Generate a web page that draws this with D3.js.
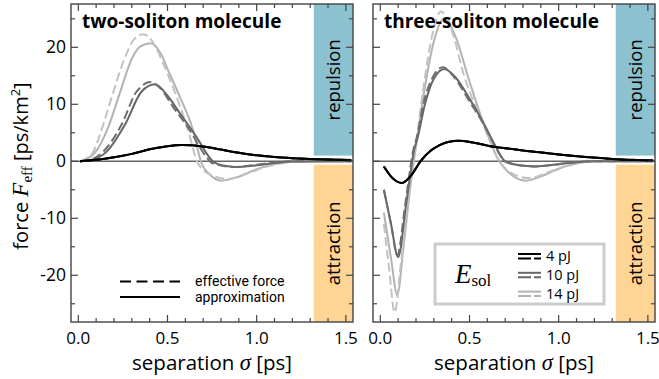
<!DOCTYPE html>
<html><head><meta charset="utf-8">
<script src="https://cdn.jsdelivr.net/npm/d3@7"></script>
<style>
body{margin:0;background:#fff}
svg{display:block}
text{font-family:'Open Sans',sans-serif;fill:#000}
.serif{font-family:'Liberation Serif','DejaVu Serif',serif}
.leg{font-family:Roboto,'Open Sans',sans-serif}
</style>
</head><body>
<svg id="c" width="659" height="379"></svg>
<script>
// ---------------- data ----------------
const panelTitles = ["two-soliton molecule", "three-soliton molecule"];
const energyLabels = ["4 pJ", "10 pJ", "14 pJ"];
const xTickValues = [0, 0.5, 1.0, 1.5];
const xTickLabels = ["0.0", "0.5", "1.0", "1.5"];
const yTickValues = [-20, -10, 0, 10, 20];
const yTickLabels = ["-20", "-10", "0", "10", "20"];
const bandStart = 1.32;          // start of repulsion / attraction band (sigma)
const repulsionFrom = 1.0;       // band lower edge (force)
const attractionFrom = -0.6;     // band upper edge (force)

// two-soliton molecule  [sigma, force]
const two4Dashed  = [[0.01,0],[0.1,0.25],[0.2,0.7],[0.3,1.3],[0.4,2.1],[0.5,2.65],[0.58,2.85],[0.7,2.6],[0.8,2.05],[0.9,1.5],[1.0,1.05],[1.1,0.75],[1.2,0.55],[1.3,0.4],[1.4,0.3],[1.53,0.22]];
const two4Solid   = [[0.01,0],[0.1,0.25],[0.2,0.7],[0.3,1.3],[0.4,2.1],[0.5,2.65],[0.58,2.85],[0.7,2.6],[0.8,2.05],[0.9,1.5],[1.0,1.05],[1.1,0.75],[1.2,0.55],[1.3,0.4],[1.4,0.3],[1.53,0.22]];
const two10Dashed = [[0.01,0],[0.07,0.3],[0.14,1.7],[0.242,6.4],[0.326,12.2],[0.36,13.3],[0.40,13.9],[0.46,12.8],[0.53,9.6],[0.624,5.5],[0.717,0.8],[0.75,-0.3],[0.87,-1.0],[1.0,-0.6],[1.1,-0.2],[1.2,0],[1.53,0]];
const two10Solid  = [[0.01,0],[0.08,0.3],[0.159,1.7],[0.261,6.4],[0.354,12.2],[0.43,13.5],[0.5,11.5],[0.568,8.5],[0.66,4.4],[0.754,0],[0.82,-0.8],[0.88,-1.0],[1.0,-0.7],[1.1,-0.3],[1.2,-0.05],[1.53,0]];
const two14Dashed = [[0.01,0],[0.08,1.5],[0.13,5.5],[0.19,11.5],[0.26,18.1],[0.31,21.3],[0.365,22.3],[0.42,20.8],[0.475,17.2],[0.55,11.4],[0.615,5.5],[0.67,-0.3],[0.75,-2.5],[0.84,-3.1],[0.95,-2.1],[1.05,-1.0],[1.15,-0.3],[1.3,0],[1.53,0]];
const two14Solid  = [[0.01,0],[0.093,1.5],[0.168,6.0],[0.233,12.0],[0.30,18.0],[0.35,20.2],[0.405,20.7],[0.46,19.0],[0.503,16],[0.568,11.4],[0.643,5.5],[0.69,-0.3],[0.74,-2.4],[0.80,-3.4],[0.9,-2.7],[1.0,-1.4],[1.1,-0.5],[1.2,-0.1],[1.35,0],[1.53,0]];

// three-soliton molecule  [sigma, force]
const three4Dashed  = [[0.02,-0.9],[0.07,-3.0],[0.12,-3.8],[0.17,-2.6],[0.225,0],[0.28,1.8],[0.33,2.8],[0.38,3.4],[0.44,3.6],[0.52,3.3],[0.61,2.7],[0.7,2.3],[0.8,1.9],[0.89,1.6],[1.0,1.2],[1.17,0.7],[1.3,0.42],[1.44,0.22],[1.53,0.15]];
const three4Solid   = [[0.02,-0.9],[0.07,-3.0],[0.12,-3.8],[0.17,-2.6],[0.225,0],[0.28,1.8],[0.33,2.8],[0.38,3.4],[0.44,3.6],[0.52,3.3],[0.61,2.7],[0.7,2.3],[0.8,1.9],[0.89,1.6],[1.0,1.2],[1.17,0.7],[1.3,0.42],[1.44,0.22],[1.53,0.15]];
const three10Dashed = [[0.02,-5],[0.06,-11],[0.095,-16.5],[0.14,-7.5],[0.185,2],[0.207,4.5],[0.24,9.9],[0.29,14.5],[0.35,16.5],[0.42,14.5],[0.5,10.5],[0.574,6.8],[0.64,2.8],[0.70,0],[0.78,-0.7],[0.87,-0.9],[1.0,-0.5],[1.1,-0.15],[1.2,0],[1.53,0]];
const three10Solid  = [[0.02,-5],[0.06,-11],[0.1,-16.8],[0.145,-7.5],[0.19,2],[0.212,4.5],[0.25,10],[0.3,14.5],[0.36,16.2],[0.42,14.8],[0.5,11],[0.574,7],[0.64,3],[0.70,0],[0.78,-0.7],[0.87,-0.9],[1.0,-0.5],[1.1,-0.15],[1.2,0],[1.53,0]];
const three14Dashed = [[0.02,-11],[0.05,-19],[0.08,-26.5],[0.115,-18],[0.16,-6],[0.2,3],[0.24,12.5],[0.29,22],[0.34,26.3],[0.4,23],[0.47,15],[0.57,7],[0.667,0],[0.75,-2.3],[0.83,-2.95],[0.95,-1.8],[1.05,-0.7],[1.15,-0.1],[1.25,0],[1.53,0]];
const three14Solid  = [[0.02,-9],[0.06,-17],[0.095,-23.5],[0.13,-15],[0.17,-4],[0.207,4.1],[0.25,13],[0.3,21],[0.36,25.1],[0.42,22],[0.5,14],[0.58,6.5],[0.667,0],[0.74,-2.5],[0.815,-3.4],[0.92,-2.4],[1.0,-1.3],[1.1,-0.4],[1.2,0],[1.53,0]];

// ---------------- drawing ----------------
(function () {
const svg = d3.select("#c");
const colors = ["#000000", "#666666", "#b3b3b3"];
const frameColor = "#444";
const panelW = 282, topY = 4, bottomY = 322;
const panels = [
  {x0: 71, title: panelTitles[0], curves: [[two4Dashed,two4Solid],[two10Dashed,two10Solid],[two14Dashed,two14Solid]], yLabels: true},
  {x0: 373, title: panelTitles[1], curves: [[three4Dashed,three4Solid],[three10Dashed,three10Solid],[three14Dashed,three14Solid]], yLabels: false}
];
const y = d3.scaleLinear().domain([-28.2, 27.6]).range([bottomY, topY]);

panels.forEach((p, pi) => {
  const x = d3.scaleLinear().domain([-0.041, 1.54]).range([p.x0, p.x0 + panelW]);
  const g = svg.append("g");
  const clipId = "clip" + pi;
  g.append("clipPath").attr("id", clipId).append("rect")
    .attr("x", p.x0).attr("y", topY).attr("width", panelW).attr("height", bottomY - topY);

  // bands
  g.append("rect").attr("x", x(bandStart)).attr("y", topY)
    .attr("width", p.x0 + panelW - x(bandStart)).attr("height", y(repulsionFrom) - topY)
    .attr("fill", "#8cc1d0");
  g.append("rect").attr("x", x(bandStart)).attr("y", y(attractionFrom))
    .attr("width", p.x0 + panelW - x(bandStart)).attr("height", bottomY - y(attractionFrom))
    .attr("fill", "#fed595");
  const bcx = (x(bandStart) + p.x0 + panelW) / 2 + 6.5;
  g.append("text").attr("transform", `translate(${bcx},${(topY + y(repulsionFrom)) / 2}) rotate(-90)`)
    .attr("text-anchor", "middle").attr("font-size", 18.5).text("repulsion");
  g.append("text").attr("transform", `translate(${bcx},${(bottomY + y(attractionFrom)) / 2}) rotate(-90)`)
    .attr("text-anchor", "middle").attr("font-size", 18.5).text("attraction");

  // zero line
  g.append("line").attr("x1", p.x0).attr("x2", p.x0 + panelW).attr("y1", y(0)).attr("y2", y(0))
    .attr("stroke", "#666").attr("stroke-width", 1.4);

  // curves
  const line = d3.line().x(d => x(d[0])).y(d => y(d[1])).curve(d3.curveMonotoneX);
  const cg = g.append("g").attr("clip-path", `url(#${clipId})`);
  [2, 1, 0].forEach(i => {
    const [dashed, solid] = p.curves[i];
    cg.append("path").datum(solid).attr("d", line).attr("fill", "none")
      .attr("stroke", colors[i]).attr("stroke-width", 2);
    cg.append("path").datum(dashed).attr("d", line).attr("fill", "none")
      .attr("stroke", i === 0 ? "#1c2a1c" : (i === 2 ? "#c2c2c2" : "#6e6e6e")).attr("stroke-width", 2)
      .attr("stroke-dasharray", "9,4");
  });
  cg.append("path").datum(p.curves[0][1]).attr("d", line).attr("fill", "none")
    .attr("stroke", "#000").attr("stroke-width", 2);

  // frame
  g.append("rect").attr("x", p.x0).attr("y", topY).attr("width", panelW).attr("height", bottomY - topY)
    .attr("fill", "none").attr("stroke", frameColor).attr("stroke-width", 1.4);

  // x ticks (inward, top & bottom)
  d3.range(0, 15.5, 1).map(k => k / 10).forEach(v => {
    const isMajor = Math.abs(v * 2 - Math.round(v * 2)) < 1e-6;
    const len = isMajor ? 7 : 4;
    g.append("line").attr("x1", x(v)).attr("x2", x(v)).attr("y1", bottomY).attr("y2", bottomY - len)
      .attr("stroke", frameColor).attr("stroke-width", 1.2);
    g.append("line").attr("x1", x(v)).attr("x2", x(v)).attr("y1", topY).attr("y2", topY + len)
      .attr("stroke", frameColor).attr("stroke-width", 1.2);
  });
  // y ticks (inward, left & right)
  d3.range(-25, 25.001, 5).forEach(v => {
    const isMajor = v % 10 === 0;
    const len = isMajor ? 7 : 4;
    g.append("line").attr("x1", p.x0).attr("x2", p.x0 + len).attr("y1", y(v)).attr("y2", y(v))
      .attr("stroke", frameColor).attr("stroke-width", 1.2);
    g.append("line").attr("x1", p.x0 + panelW).attr("x2", p.x0 + panelW - len).attr("y1", y(v)).attr("y2", y(v))
      .attr("stroke", frameColor).attr("stroke-width", 1.2);
  });
  // x tick labels
  xTickValues.forEach((v, i) => {
    g.append("text").attr("x", x(v)).attr("y", 344).attr("text-anchor", "middle")
      .attr("font-size", 17).text(xTickLabels[i]);
  });
  if (p.yLabels) {
    yTickValues.forEach((v, i) => {
      g.append("text").attr("x", 66).attr("y", y(v) + 6).attr("text-anchor", "end")
        .attr("font-size", 17.5).text(yTickLabels[i]);
    });
  }
  // title
  g.append("text").attr("x", p.x0 + 11).attr("y", 28).attr("font-size", 19)
    .attr("font-weight", "bold").text(p.title);

  // x label
  const xl = g.append("text").attr("x", p.x0 + 141).attr("y", 369.5).attr("text-anchor", "middle")
    .attr("font-size", 20.5);
  xl.append("tspan").text("separation ");
  xl.append("tspan").attr("class", "serif").attr("font-style", "italic").attr("font-size", 22.5).text("σ");
  xl.append("tspan").text(" [ps]");
});

// y label
const yl = svg.append("text").attr("transform", "translate(28,166) rotate(-90)")
  .attr("text-anchor", "middle").attr("font-size", 20);
yl.append("tspan").text("force ");
yl.append("tspan").attr("class", "serif").attr("font-style", "italic").attr("font-size", 23).text("F");
yl.append("tspan").attr("class", "serif").attr("font-size", 15).attr("dy", 4).text("eff");
yl.append("tspan").attr("dy", -4).text(" [ps/km");
yl.append("tspan").attr("font-size", 13).attr("dy", -8).text("2");
yl.append("tspan").attr("dy", 8).text("]");

// left legend (line styles)
svg.append("line").attr("x1", 120).attr("x2", 180).attr("y1", 281.5).attr("y2", 281.5)
  .attr("stroke", "#000").attr("stroke-width", 2).attr("stroke-dasharray", "11,5.5");
svg.append("line").attr("x1", 120).attr("x2", 180).attr("y1", 297).attr("y2", 297)
  .attr("stroke", "#000").attr("stroke-width", 2);
svg.append("text").attr("class", "leg").attr("x", 195).attr("y", 285.5).attr("font-size", 14).text("effective force");
svg.append("text").attr("class", "leg").attr("x", 195).attr("y", 302).attr("font-size", 14).text("approximation");

// right legend (energies)
svg.append("rect").attr("x", 435).attr("y", 244).attr("width", 169).attr("height", 60)
  .attr("fill", "#fff").attr("stroke", "#cccccc").attr("stroke-width", 3);
const el = svg.append("text").attr("x", 455).attr("y", 283).attr("class", "serif");
el.append("tspan").attr("font-style", "italic").attr("font-size", 27).text("E");
el.append("tspan").attr("font-size", 17).attr("dy", 3).text("sol");
energyLabels.forEach((lab, i) => {
  const yy = 254 + i * 18.8;
  svg.append("line").attr("x1", 518).attr("x2", 541).attr("y1", yy).attr("y2", yy)
    .attr("stroke", colors[i]).attr("stroke-width", 2);
  svg.append("line").attr("x1", 518).attr("x2", 541).attr("y1", yy + 4.5).attr("y2", yy + 4.5)
    .attr("stroke", colors[i]).attr("stroke-width", 2).attr("stroke-dasharray", "13,3,7");
  svg.append("text").attr("x", 546).attr("y", yy + 7).attr("font-size", 14.5).text(lab);
});
})();
</script>
</body></html>
